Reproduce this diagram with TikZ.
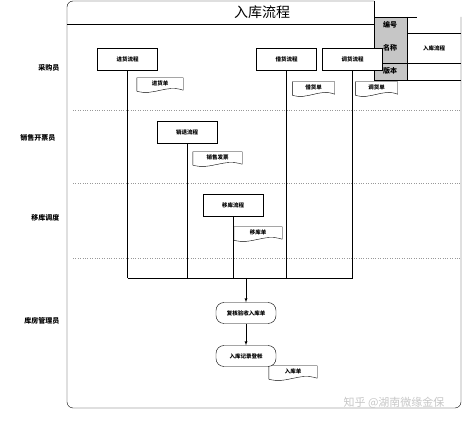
\documentclass[tikz,border=0pt]{standalone}
\usepackage{fontspec}
\setmainfont{Noto Sans CJK SC}
\usetikzlibrary{positioning}
\usetikzlibrary{calc}

\begin{document}
\begin{tikzpicture}[
        x=1pt, y=-1pt,
        process/.style = {draw, fill=white, minimum width=60pt, minimum height=22pt, inner sep=1pt, font=\fontsize{5.5}{6}\selectfont\bfseries},
        paper/.style = {fill=white, minimum width=46pt, minimum height=11pt, inner sep=1pt, font=\fontsize{5.5}{6}\selectfont\bfseries},
        terminal/.style = {draw, fill=white, rounded corners=8pt, minimum width=60pt, minimum height=21pt, inner sep=1pt, font=\fontsize{5.5}{6}\selectfont\bfseries},
        lane/.style = {anchor=east, font=\fontsize{7}{8}\selectfont\bfseries},
        cell/.style = {font=\fontsize{7}{8}\selectfont\bfseries},
        separator/.style = {gray!80, dotted}
    ]
    \useasboundingbox (0,0) rectangle (467,422);

    \draw[rounded corners=6pt] (374,1) -- (67,1) -- (67,408) -- (461,408) -- (461,17);
    \draw (67,24) -- (374,24);
    \node (Title) at (262,12) {\fontsize{14}{16}\selectfont 入库流程};

    \fill[gray!45] (374,17) rectangle (407,80);
    \draw (374,1) -- (374,80) -- (461,80);
    \draw (374,17) -- (417,17);
    \draw (407,17) -- (407,80);
    \draw (407,33) -- (461,33);
    \draw (374,63) -- (461,63);
    \node[cell] (CellNo) at (390,25) {编号};
    \node[cell] (CellName) at (390,48) {名称};
    \node[cell, font=\fontsize{5.5}{6}\selectfont\bfseries] (CellNameValue) at (434,48) {入库流程};
    \node[cell] (CellVersion) at (390,71) {版本};

    \foreach \y in {110,183,258}
        \draw[separator] (73,\y) -- (461,\y);
    \node[lane] (LaneBuyer) at (63,68) {采购员};
    \node[lane] (LaneSales) at (59,138) {销售开票员};
    \node[lane] (LaneMove) at (63,218) {移库调度};
    \node[lane] (LaneStore) at (63,321) {库房管理员};

    \coordinate (Bus) at (246,278);

    \node[process] (PurchaseFlow) at (127.5,59) {进货流程};
    \node[process] (BorrowFlow) at (286.5,59) {借货流程};
    \node[process] (TransferFlow) at (352.5,59) {调货流程};
    \node[process] (ReturnFlow) at (187,132.5) {销退流程};
    \node[process] (MoveFlow) at (233,205) {移库流程};

    \draw (PurchaseFlow) -- (PurchaseFlow |- Bus);
    \draw (BorrowFlow) -- (BorrowFlow |- Bus);
    \draw (TransferFlow) -- (TransferFlow |- Bus);
    \draw (ReturnFlow) -- (ReturnFlow |- Bus);
    \draw (MoveFlow) -- (MoveFlow |- Bus);
    \draw (PurchaseFlow |- Bus) -- (TransferFlow |- Bus);

    \node[paper] (PurchaseDoc) at (160,83.5) {进货单};
    \node[paper, minimum width=42pt] (BorrowDoc) at (313.5,87.5) {借货单};
    \node[paper, minimum width=42pt] (TransferDoc) at (376.5,87.5) {调货单};
    \node[paper, minimum width=49pt] (InvoiceDoc) at (217.5,157.5) {销售发票};
    \node[paper, minimum width=48pt] (MoveDoc) at (258,232.5) {移库单};
    \node[paper, minimum width=48pt] (StockDoc) at (293,371.5) {入库单};
    \foreach \n in {PurchaseDoc,BorrowDoc,TransferDoc,InvoiceDoc,MoveDoc,StockDoc}
        \draw (\n.north west) -- (\n.north east) -- ($(\n.south east)+(0,1)$)
            .. controls ($(\n.south)+(6,-5)$) and ($(\n.south)+(-6,7)$) .. ($(\n.south west)+(0,2)$) -- cycle;

    \node[terminal] (CheckNode) at (246,313) {复核验收入库单};
    \node[terminal] (RecordNode) at (246,356) {入库记录登帐};
    \draw[-latex] (Bus) -- (CheckNode);
    \draw[-latex] (CheckNode) -- (RecordNode);

    \node[text=gray!45, font=\fontsize{11}{12}\selectfont] (Mark) at (394,403) {知乎 @湖南微缘金保};
\end{tikzpicture}
\end{document}
